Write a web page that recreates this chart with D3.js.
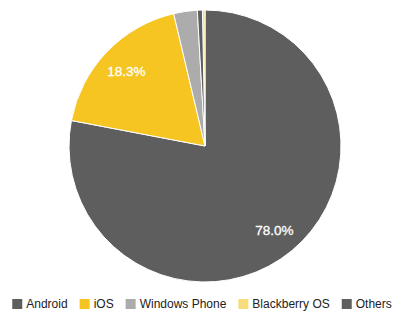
<!DOCTYPE html>
<html>
<head>
<meta charset="utf-8">
<script src="https://cdn.jsdelivr.net/npm/d3@7"></script>
<style>
  body { margin: 0; background: #fff; }
  text { font-family: "Liberation Sans", Arial, sans-serif; }
</style>
</head>
<body>
<script>
const categories = ["Android", "iOS", "Windows Phone", "Blackberry OS", "Others"];
const shares = [78.0, 18.3, 2.8, 0.3, 0.6];
const colors = ["#5e5e5e", "#f6c522", "#acacac", "#f9dc7b", "#5e5e5e"];

const width = 404;
const height = 322;
const cx = 205, cy = 146, radius = 136;

const data = categories.map((c, i) => ({name: c, value: shares[i], color: colors[i]}));

const pie = d3.pie().value(d => d.value); // default sort: largest first
const arc = d3.arc().innerRadius(0).outerRadius(radius);
const labelArc = d3.arc().innerRadius(radius * 0.8).outerRadius(radius * 0.8);

const svg = d3.select("body")
  .append("svg")
    .attr("width", width)
    .attr("height", height)
    .attr("viewBox", [0, 0, width, height]);

const g = svg.append("g").attr("transform", `translate(${cx},${cy})`);

const arcs = pie(data);

g.selectAll("path")
  .data(arcs)
  .join("path")
    .attr("d", arc)
    .attr("fill", d => d.data.color)
    .attr("stroke", "#fff")
    .attr("stroke-width", 1);

// only big slices get a label
g.selectAll("text")
  .data(arcs.filter(d => d.data.value > 10))
  .join("text")
    .attr("transform", d => `translate(${labelArc.centroid(d)})`)
    .attr("text-anchor", "middle")
    .attr("dy", "0.35em")
    .attr("fill", "#fff")
    .attr("font-size", 13.5)
    .attr("stroke", "#fff")
    .attr("stroke-width", 0.3)
    .text(d => d.data.value.toFixed(1) + "%");

// Legend
const legend = svg.append("g");
const items = legend.selectAll("g")
  .data(data)
  .join("g");

items.append("rect")
    .attr("width", 10)
    .attr("height", 10)
    .attr("y", -5)
    .attr("fill", d => d.color);

items.append("text")
    .attr("x", 14)
    .attr("dy", "0.35em")
    .attr("font-size", 12)
    .attr("fill", "#222")
    .text(d => d.name);

let x = 0;
items.each(function() {
  const w = 14 + this.querySelector("text").getComputedTextLength();
  d3.select(this).attr("transform", `translate(${x},0)`);
  x += w + 12;
});
const total = x - 12;
legend.attr("transform", `translate(${(width - total) / 2},304)`);
</script>
</body>
</html>
